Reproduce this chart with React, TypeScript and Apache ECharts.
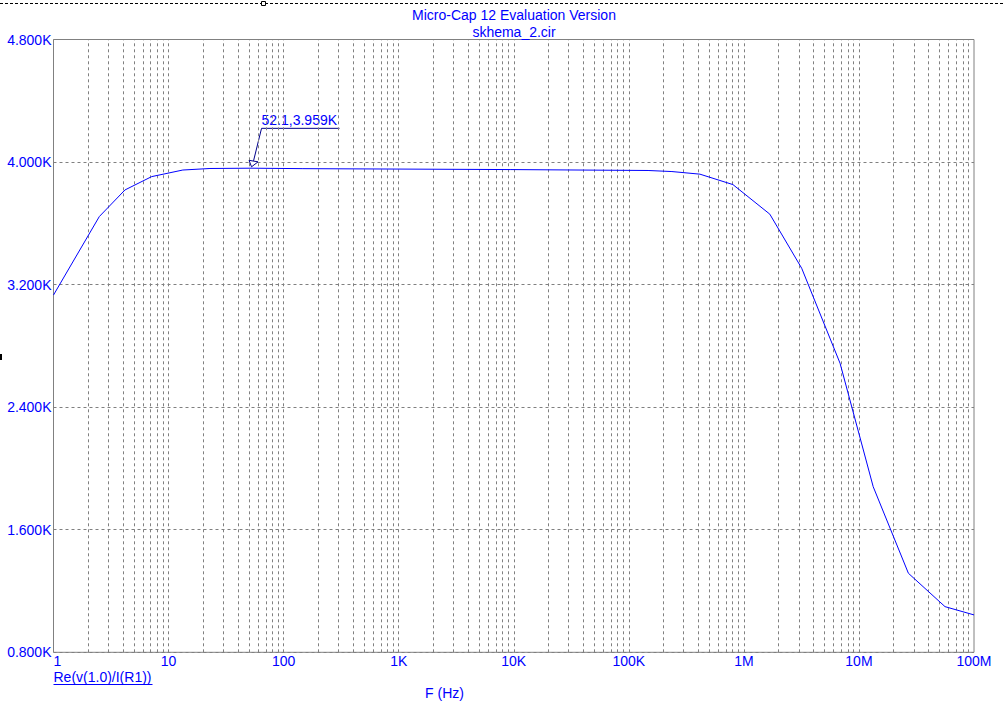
import { useEffect, useRef } from "react";
import * as echarts from "echarts";

// ---- data ----
const freqHz = [
  1, 2.5, 4.18, 7.13, 13.3, 22.9, 52.1, 147, 9300, 147000, 237000, 415000,
  803000, 1680000, 3180000, 6850000, 13300000, 26900000, 56000000, 100000000,
];
const resistanceOhm = [
  3132, 3644, 3818, 3905, 3948, 3958, 3960, 3957, 3951, 3945, 3938, 3921,
  3853, 3660, 3307, 2687, 1881, 1316, 1098, 1044,
];
const xTickLabels = ["1", "10", "100", "1K", "10K", "100K", "1M", "10M", "100M"];
const decadeStarts = [1, 10, 100, 1000, 10000, 100000, 1000000, 10000000];
const gridMultipliers = [1, 2, 3, 4, 5, 6, 7, 8, 9];
const yMin = 800;
const yMax = 4800;
const yStep = 800;
const titleText = "Micro-Cap 12 Evaluation Version";
const subtitleText = "skhema_2.cir";
const traceLabel = "Re(v(1.0)/I(R1))";
const xAxisName = "F (Hz)";
const markerFreq = 52.1;
const markerValue = 3959;
const markerLabel = "52.1,3.959K";

const BLUE = "#0000ff";
const GRID = "#808080";
const FONT = "'Liberation Sans', Arial, sans-serif";

export default function App() {
  const ref = useRef<HTMLDivElement>(null);

  useEffect(() => {
    const chart = echarts.init(ref.current!, null, { renderer: "svg" });

    const vLines: any[] = [];
    decadeStarts.forEach((d) => {
      gridMultipliers.forEach((m) => {
        if (d === 1 && m === 1) return;
        vLines.push({ xAxis: d * m });
      });
    });

    chart.setOption({
      animation: false,
      backgroundColor: "#ffffff",
      grid: {
        left: 53.5,
        top: 39.5,
        width: 920.5,
        height: 612.8,
        show: true,
        borderColor: GRID,
        borderWidth: 1,
        backgroundColor: "transparent",
      },
      xAxis: {
        type: "log",
        logBase: 10,
        min: 1,
        max: 100000000,
        splitNumber: 8,
        axisLine: { show: false },
        axisTick: { show: false },
        splitLine: { show: false },
        axisLabel: {
          color: BLUE,
          fontSize: 14,
          fontFamily: FONT,
          margin: 2,
          alignMinLabel: "left",
          showMinLabel: true,
          showMaxLabel: true,
          formatter: (v: number) => {
            const i = Math.round(Math.log10(v));
            return xTickLabels[i] ?? "";
          },
        },
      },
      yAxis: {
        type: "value",
        min: yMin,
        max: yMax,
        interval: yStep,
        axisLine: { show: false },
        axisTick: { show: false },
        splitLine: {
          show: true,
          lineStyle: { color: GRID, type: [3, 3], width: 1 },
        },
        axisLabel: {
          color: BLUE,
          fontSize: 14,
          fontFamily: FONT,
          margin: 2,
          formatter: (v: number) => (v / 1000).toFixed(3) + "K",
        },
      },
      series: [
        {
          type: "line",
          data: [],
          z: 1,
          silent: true,
          markLine: {
            z: 1,
            silent: true,
            symbol: ["none", "none"],
            label: { show: false },
            emphasis: { disabled: true },
            lineStyle: { color: GRID, type: [3, 3], width: 1 },
            data: vLines,
          },
        },
        {
          type: "line",
          z: 3,
          showSymbol: false,
          symbol: "none",
          silent: true,
          lineStyle: { color: BLUE, width: 1 },
          data: freqHz.map((f, i) => [f, resistanceOhm[i]]),
        },
      ],
    });

    const p = chart.convertToPixel({ gridIndex: 0 }, [markerFreq, markerValue]) as number[];
    const tx = p[0] + 0.5;
    const ty = p[1] - 1.5;
    const ANN = "#00008b";

    chart.setOption({
      graphic: [
        {
          type: "line",
          shape: { x1: 0, y1: 3.5, x2: 1003, y2: 3.5 },
          style: { stroke: "#000000", lineWidth: 1, lineDash: [3, 2] },
        },
        {
          type: "rect",
          shape: { x: 261.5, y: 1.5, width: 4, height: 4 },
          style: { stroke: "#000000", fill: "#ffffff", lineWidth: 1 },
        },
        {
          type: "rect",
          shape: { x: 0, y: 354, width: 2, height: 6 },
          style: { fill: "#000000" },
        },
        {
          type: "text",
          x: 514,
          y: 15,
          style: {
            text: titleText,
            fill: BLUE,
            font: `14px ${FONT}`,
            textAlign: "center",
            textVerticalAlign: "middle",
          },
        },
        {
          type: "text",
          x: 514,
          y: 31.5,
          style: {
            text: subtitleText,
            fill: BLUE,
            font: `14px ${FONT}`,
            textAlign: "center",
            textVerticalAlign: "middle",
          },
        },
        {
          type: "text",
          x: 53.5,
          y: 677,
          style: {
            text: traceLabel,
            fill: BLUE,
            font: `14px ${FONT}`,
            textAlign: "left",
            textVerticalAlign: "middle",
          },
        },
        {
          type: "line",
          shape: { x1: 53.5, y1: 684.5, x2: 152.5, y2: 684.5 },
          style: { stroke: BLUE, lineWidth: 1 },
        },
        {
          type: "text",
          x: 444.5,
          y: 693,
          style: {
            text: xAxisName,
            fill: BLUE,
            font: `14px ${FONT}`,
            textAlign: "center",
            textVerticalAlign: "middle",
          },
        },
        // marker annotation
        {
          type: "text",
          x: tx + 10,
          y: ty - 46.5,
          style: {
            text: markerLabel,
            fill: BLUE,
            font: `14px ${FONT}`,
            textAlign: "left",
            textVerticalAlign: "middle",
          },
        },
        {
          type: "polyline",
          shape: {
            points: [
              [tx + 88, ty - 38.5],
              [tx + 10, ty - 38.5],
              [tx + 2, ty - 6],
            ],
          },
          style: { stroke: ANN, lineWidth: 1, fill: "none" },
        },
        {
          type: "polygon",
          z: 10,
          shape: {
            points: [
              [tx - 2.5, ty - 6.5],
              [tx + 6.5, ty - 5],
              [tx, ty],
            ],
          },
          style: { stroke: ANN, lineWidth: 1, fill: "#ffffff" },
        },
      ],
    });

    return () => chart.dispose();
  }, []);

  return (
    <div
      ref={ref}
      style={{ position: "fixed", left: 0, top: 0, width: 1003, height: 711 }}
    />
  );
}
